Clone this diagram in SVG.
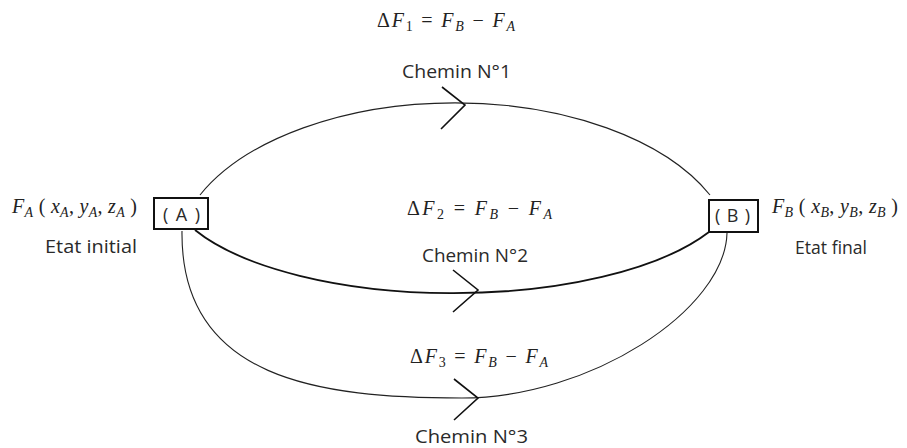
<svg xmlns="http://www.w3.org/2000/svg" width="907" height="448" viewBox="0 0 907 448">
<style>
.bg{fill:#ffffff}
.path{fill:none;stroke:#222;stroke-width:1.1}
.thick{stroke:#111;stroke-width:1.8}
.chev{fill:none;stroke:#111;stroke-width:1.6;stroke-linejoin:miter}
.box{fill:#fff;stroke:#111;stroke-width:2}
.lbl{font-family:"Open Sans","Liberation Sans",sans-serif;font-size:18px;fill:#2a2a2a}
.m{font-family:"Liberation Serif","DejaVu Serif",serif;font-size:20px;fill:#222}
.i{font-style:italic}
.s{font-size:14px}
</style>
<rect class="bg" x="0" y="0" width="907" height="448"/>
<g id="connectors">
  <path id="chemin1" class="path" d="M 200 195 A 280 157 0 0 1 710 195"/>
  <path id="chemin2" class="path thick" d="M 195 230 A 287 112 0 0 0 709 232"/>
  <path id="chemin3" class="path" d="M 182 231 C 180 380, 320 398, 462 398 C 590 398, 725 310, 727 233"/>
  <polyline class="chev" points="442,87 465,105 441,129"/>
  <polyline class="chev" points="453,270 478,290 453,312"/>
  <polyline class="chev" points="454,379 478,398 454,420"/>
</g>
<g id="nodeA">
  <rect class="box" x="154" y="198" width="54" height="31"/>
  <text class="lbl" x="163" y="221" textLength="37" lengthAdjust="spacing">( A )</text>
  <text class="m" x="12" y="213" textLength="125" lengthAdjust="spacing"><tspan class="i">F</tspan><tspan class="s i" dy="4">A</tspan><tspan dy="-4"> ( </tspan><tspan class="i">x</tspan><tspan class="s i" dy="4">A</tspan><tspan dy="-4">, </tspan><tspan class="i">y</tspan><tspan class="s i" dy="4">A</tspan><tspan dy="-4">, </tspan><tspan class="i">z</tspan><tspan class="s i" dy="4">A</tspan><tspan dy="-4"> )</tspan></text>
  <text class="lbl" x="45" y="253" textLength="92" lengthAdjust="spacingAndGlyphs">Etat initial</text>
</g>
<g id="nodeB">
  <rect class="box" x="709" y="200" width="49" height="32"/>
  <text class="lbl" x="715" y="222" textLength="35" lengthAdjust="spacing">( B )</text>
  <text class="m" x="772" y="213" textLength="126" lengthAdjust="spacing"><tspan class="i">F</tspan><tspan class="s i" dy="4">B</tspan><tspan dy="-4"> ( </tspan><tspan class="i">x</tspan><tspan class="s i" dy="4">B</tspan><tspan dy="-4">, </tspan><tspan class="i">y</tspan><tspan class="s i" dy="4">B</tspan><tspan dy="-4">, </tspan><tspan class="i">z</tspan><tspan class="s i" dy="4">B</tspan><tspan dy="-4"> )</tspan></text>
  <text class="lbl" x="795" y="254" textLength="72" lengthAdjust="spacingAndGlyphs">Etat final</text>
</g>
<g id="label1">
  <text class="m" x="377" y="27" textLength="138" lengthAdjust="spacing">Δ<tspan class="i">F</tspan><tspan class="s" dy="4">1</tspan><tspan dy="-4"> = </tspan><tspan class="i">F</tspan><tspan class="s i" dy="4">B</tspan><tspan dy="-4"> − </tspan><tspan class="i">F</tspan><tspan class="s i" dy="4">A</tspan></text>
  <text class="lbl" x="402" y="78" textLength="109" lengthAdjust="spacingAndGlyphs">Chemin N°1</text>
</g>
<g id="label2">
  <text class="m" x="407" y="215" textLength="145" lengthAdjust="spacing">Δ<tspan class="i">F</tspan><tspan class="s" dy="4">2</tspan><tspan dy="-4"> = </tspan><tspan class="i">F</tspan><tspan class="s i" dy="4">B</tspan><tspan dy="-4"> − </tspan><tspan class="i">F</tspan><tspan class="s i" dy="4">A</tspan></text>
  <text class="lbl" x="422" y="262" textLength="106" lengthAdjust="spacingAndGlyphs">Chemin N°2</text>
</g>
<g id="label3">
  <text class="m" x="410" y="363" textLength="138" lengthAdjust="spacing">Δ<tspan class="i">F</tspan><tspan class="s" dy="4">3</tspan><tspan dy="-4"> = </tspan><tspan class="i">F</tspan><tspan class="s i" dy="4">B</tspan><tspan dy="-4"> − </tspan><tspan class="i">F</tspan><tspan class="s i" dy="4">A</tspan></text>
  <text class="lbl" x="415" y="443" textLength="113" lengthAdjust="spacingAndGlyphs">Chemin N°3</text>
</g>
</svg>
